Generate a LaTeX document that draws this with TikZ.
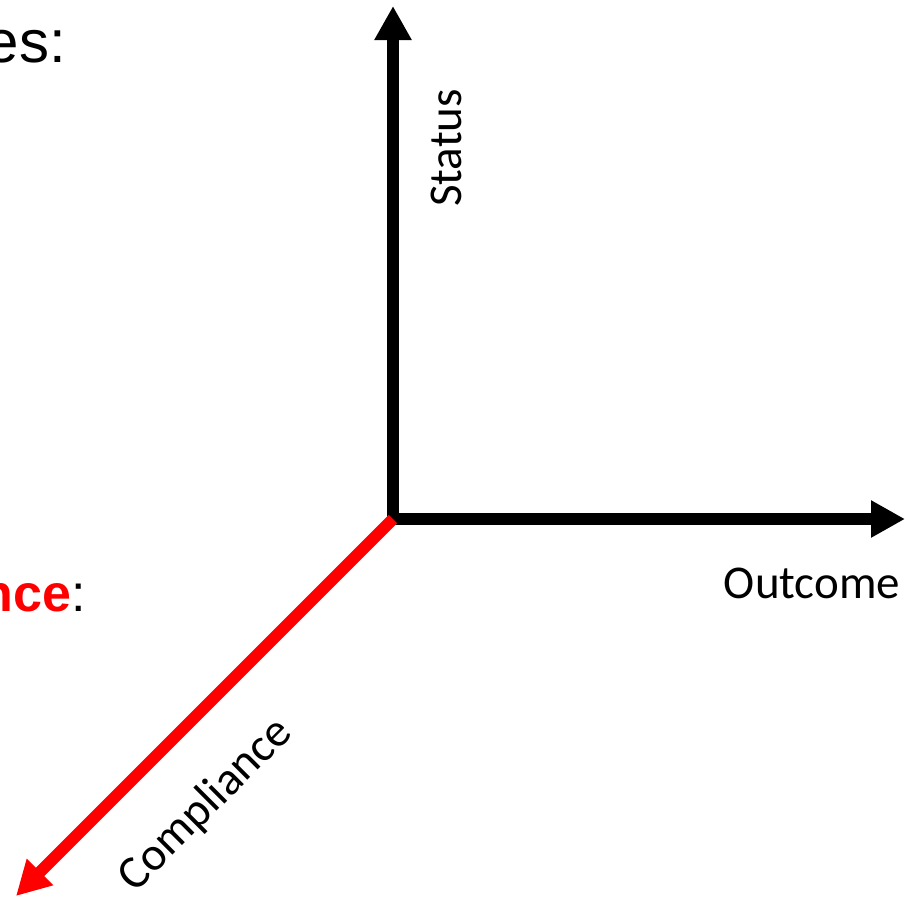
\documentclass[tikz,border=0pt]{standalone}
\usepackage{fontspec}
\setmainfont{Carlito}
\newfontfamily\arialfont{Liberation Sans}
\usepackage{xcolor}
\usepackage{tikz}
\usetikzlibrary{arrows.meta,positioning,calc}
\definecolor{AxisBlack}{RGB}{  0,  0,  0}
\definecolor{AxisRed}  {RGB}{255,  0,  0}
\tikzset{
  axisline/.style={line width=12pt, -{Triangle[length=34pt,width=35pt]}},
  axislabel/.style={font=\fontsize{47}{50}\selectfont, inner sep=0pt},
  slidetext/.style={font=\arialfont\fontsize{60}{64}\selectfont, inner sep=0pt}
}
\begin{document}
\begin{tikzpicture}[x=1pt,y=-1pt]
  \useasboundingbox (0,0) rectangle (905,897);
  % axis end points
  \coordinate (origin)        at (393,519);
  \coordinate (statustip)     at (393,6);
  \coordinate (outcometip)    at (905,519);
  \coordinate (compliancetip) at (16,896);
  % black axes, square at the corner
  \draw[axisline, AxisBlack] ($(origin)+(0,6)$) -- (statustip);
  \draw[axisline, AxisBlack] ($(origin)+(-6,0)$) -- (outcometip);
  % red axis on top
  \draw[axisline, AxisRed] (origin) -- (compliancetip);
  % axis labels
  \node[axislabel, rotate=90] (status) at (446,148) {Status};
  \node[axislabel] (outcome) at (812,583) {Outcome};
  \node[axislabel, rotate=45] (compliance) at (206,805) {Compliance};
  % slide text cut off at the left edge
  \node[slidetext, anchor=base east] (slidetop) at (66,62) {es:};
  \node[slidetext, anchor=base east, font=\arialfont\fontsize{52}{56}\selectfont]
    (slidemid) at (86,611) {\textcolor{AxisRed}{\bfseries nce}:};
\end{tikzpicture}
\end{document}
